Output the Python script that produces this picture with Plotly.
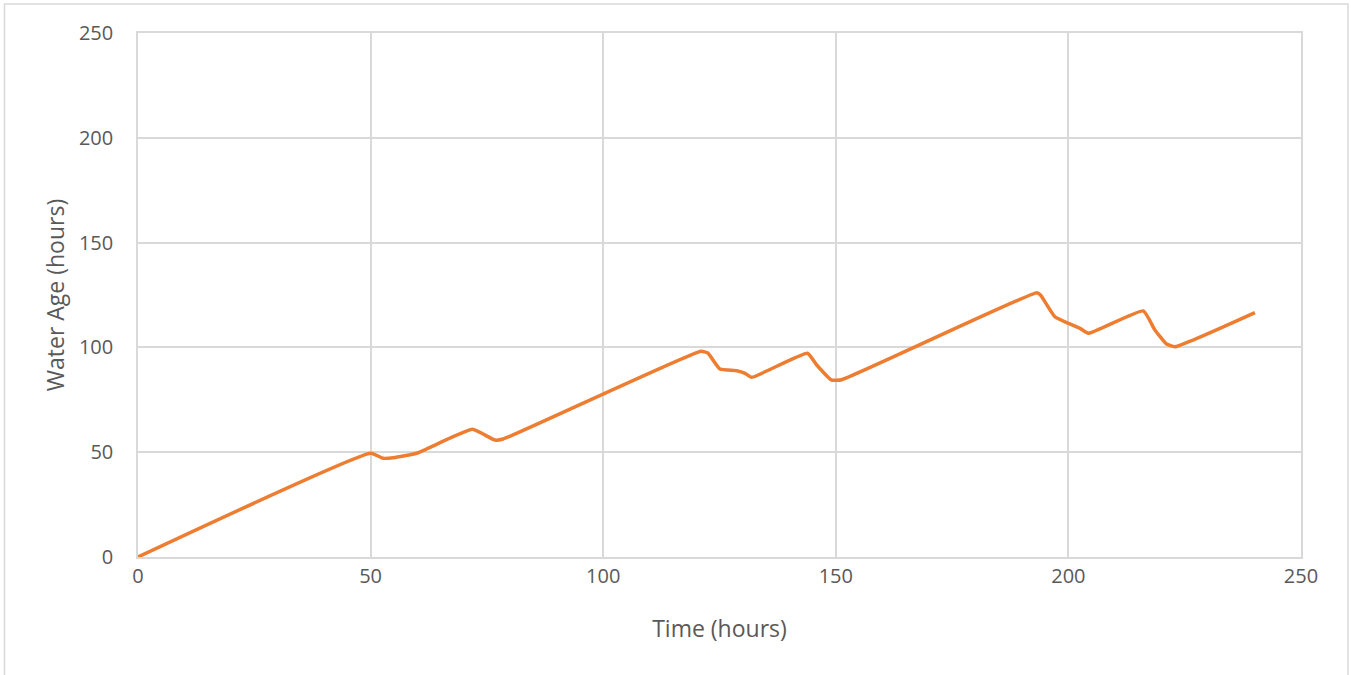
import plotly.graph_objects as go

time_hours = [0, 50, 52.7, 54.9, 59.9, 71.9, 76.7, 78.5, 121.0, 122.5, 125.1, 128.7, 130.5, 131.9,
              143.9, 145.9, 149.1, 151.3, 193.2, 194.0, 197.1, 200.0, 202.5, 204.3,
              216.1, 218.6, 221.1, 222.9, 240.1]
water_age = [0, 49.5, 47.1, 47.4, 49.5, 60.9, 55.8, 56.3, 98.2, 97.3, 89.7, 88.9, 87.6, 85.7,
             97.2, 91.6, 84.4, 84.6, 126.1, 125.0, 114.6, 111.5, 109.1, 106.7,
             117.4, 108.3, 101.6, 100.3, 116.6]

x_ticks = [0, 50, 100, 150, 200, 250]
y_ticks = [0, 50, 100, 150, 200, 250]

fig = go.Figure()
fig.add_trace(go.Scatter(
    x=time_hours, y=water_age, mode="lines",
    line=dict(color="#ED7D31", width=3.5, shape="spline", smoothing=0.4),
    showlegend=False, hoverinfo="x+y",
))

font_family = "Open Sans, Liberation Sans, sans-serif"
fig.update_layout(
    width=1351, height=675,
    margin=dict(l=138, r=50, t=33, b=118),
    paper_bgcolor="white", plot_bgcolor="white",
    font=dict(family=font_family, color="#595959", size=20),
    shapes=[dict(type="rect", xref="paper", yref="paper",
                 x0=-0.1148, x1=1.0404, y0=-0.25, y1=1.0553,
                 line=dict(color="#D9D9D9", width=1.5), fillcolor="rgba(0,0,0,0)", layer="below")],
)
fig.update_xaxes(
    range=[0, 250], tickvals=x_ticks, showgrid=True, gridcolor="#D9D9D9", gridwidth=1.5,
    showline=True, linecolor="#D9D9D9", linewidth=1.5, mirror=True, zeroline=False,
    ticks="", ticklen=0, tickfont=dict(size=20, color="#595959"),
    title=dict(text="Time (hours)", font=dict(size=23, color="#595959"), standoff=33),
)
fig.update_yaxes(
    range=[0, 250], tickvals=y_ticks, showgrid=True, gridcolor="#D9D9D9", gridwidth=1.5,
    showline=True, linecolor="#D9D9D9", linewidth=1.5, mirror=True, zeroline=False,
    ticks="", tickfont=dict(size=20, color="#595959"), ticklabelstandoff=19,
    title=dict(text="Water Age (hours)", font=dict(size=23, color="#595959"), standoff=8),
)
fig.write_html("out.html", config={"displayModeBar": False},
               post_script="document.body.style.margin='0';document.body.style.overflow='hidden';")
